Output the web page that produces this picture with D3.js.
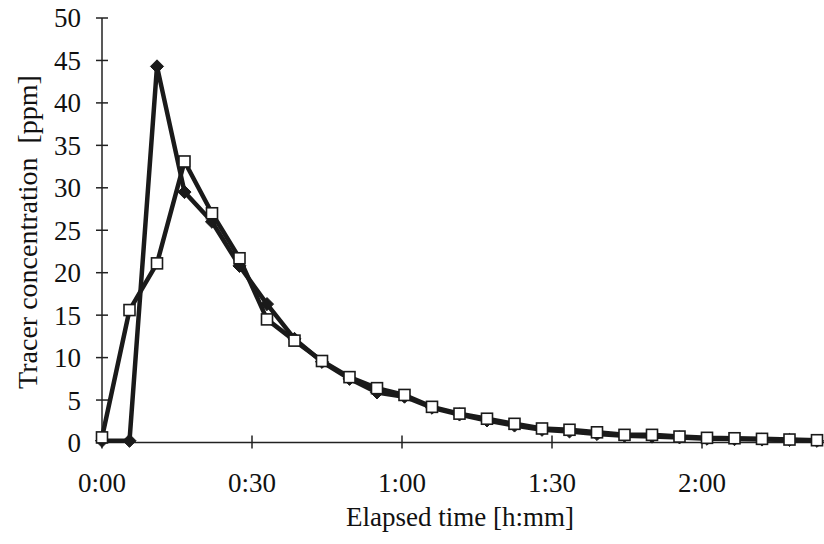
<!DOCTYPE html>
<html>
<head>
<meta charset="utf-8">
<script src="https://cdn.jsdelivr.net/npm/d3@7"></script>
<style>
    body { margin: 0; background: #fff; }
</style>
</head>
<body>
<div id="chart"></div>
<script>

// elapsed time of each sample, minutes
let minutes = [0, 5.5, 11, 16.5, 22, 27.5, 33, 38.5, 44, 49.5, 55, 60.5, 66, 71.5,
    77, 82.5, 88, 93.5, 99, 104.5, 110, 115.5, 121, 126.5, 132, 137.5, 143];

// filled diamonds
let seriesA = [0.2, 0.2, 44.3, 29.5, 26.0, 20.8, 16.3, 12.2, 9.5, 7.5, 5.9, 5.4, 4.1, 3.3,
    2.6, 2.0, 1.5, 1.3, 1.0, 0.8, 0.7, 0.6, 0.45, 0.4, 0.35, 0.3, 0.2];

// open squares
let seriesB = [0.6, 15.6, 21.1, 33.1, 27.0, 21.7, 14.5, 12.0, 9.6, 7.7, 6.4, 5.6, 4.2, 3.4,
    2.8, 2.2, 1.65, 1.5, 1.2, 0.9, 0.9, 0.7, 0.55, 0.5, 0.43, 0.35, 0.27];

let xTicks = [0, 30, 60, 90, 120];
let xTickLabels = ["0:00", "0:30", "1:00", "1:30", "2:00"];
let yTicks = [0, 5, 10, 15, 20, 25, 30, 35, 40, 45, 50];

let width = 824,
    height = 544;
let serif = '"Liberation Serif", "DejaVu Serif", serif';

let svg = d3.select('#chart').append('svg')
    .attr('width', width)
    .attr('height', height)
    .attr('font-family', serif);

//----------------------------------------
// Scales
let x = d3.scaleLinear()
    .domain([0, 144.4])
    .range([102, 824]);

let y = d3.scaleLinear()
    .domain([0, 50])
    .range([442.5, 18]);

//----------------------------------------
// Axes (ticks cross the axis line)
let yAxis = svg.append('g').attr('class', 'y-axis');
yAxis.append('line')
    .attr('x1', x(0)).attr('x2', x(0))
    .attr('y1', y(50)).attr('y2', y(0))
    .style('stroke', '#222').style('stroke-width', 1.5);
yAxis.selectAll('.tick')
    .data(yTicks)
    .enter()
    .append('line')
    .attr('x1', x(0) - 6).attr('x2', x(0) + 6)
    .attr('y1', d => y(d)).attr('y2', d => y(d))
    .style('stroke', '#222').style('stroke-width', 1.5);
yAxis.selectAll('text')
    .data(yTicks)
    .enter()
    .append('text')
    .attr('x', 81)
    .attr('y', d => y(d))
    .attr('dy', '0.35em')
    .attr('text-anchor', 'end')
    .style('font-family', serif)
    .style('font-size', '27px')
    .style('fill', '#111')
    .text(d => d);

let xAxis = svg.append('g').attr('class', 'x-axis');
xAxis.append('line')
    .attr('x1', x(0)).attr('x2', width)
    .attr('y1', y(0)).attr('y2', y(0))
    .style('stroke', '#222').style('stroke-width', 1.5);
xAxis.selectAll('.tick')
    .data(xTicks)
    .enter()
    .append('line')
    .attr('x1', d => x(d)).attr('x2', d => x(d))
    .attr('y1', y(0) - 7).attr('y2', y(0) + 6)
    .style('stroke', '#222').style('stroke-width', 1.5);
xAxis.selectAll('text')
    .data(xTicks)
    .enter()
    .append('text')
    .attr('x', d => x(d))
    .attr('y', 492)
    .attr('text-anchor', 'middle')
    .style('font-family', serif)
    .style('font-size', '27px')
    .style('fill', '#111')
    .text((d, i) => xTickLabels[i]);

//----------------------------------------
// Axis titles
svg.append('text')
    .attr('x', 460)
    .attr('y', 526)
    .attr('text-anchor', 'middle')
    .style('font-family', serif)
    .style('font-size', '27px')
    .style('fill', '#111')
    .text('Elapsed time [h:mm]');

svg.append('text')
    .attr('transform', 'translate(37,232) rotate(-90)')
    .attr('text-anchor', 'middle')
    .style('font-family', serif)
    .style('font-size', '28px')
    .style('fill', '#111')
    .text('Tracer concentration\u00a0\u00a0[ppm]');

//----------------------------------------
// Lines
let lineGen = d3.line()
    .x(d => x(d[0]))
    .y(d => y(d[1]));

let ptsA = minutes.map((m, i) => [m, seriesA[i]]);
let ptsB = minutes.map((m, i) => [m, seriesB[i]]);

svg.append('path')
    .datum(ptsA)
    .attr('d', lineGen)
    .style('fill', 'none')
    .style('stroke', '#1a1a1a')
    .style('stroke-width', 4.5)
    .style('stroke-linejoin', 'round');

svg.selectAll('.diamond')
    .data(ptsA)
    .enter()
    .append('path')
    .attr('class', 'diamond')
    .attr('d', d3.symbol().type(d3.symbolDiamond2).size(110))
    .attr('transform', d => 'translate(' + x(d[0]) + ',' + y(d[1]) + ')')
    .style('fill', '#1a1a1a')
    .style('stroke', '#1a1a1a')
    .style('stroke-width', 1);

svg.append('path')
    .datum(ptsB)
    .attr('d', lineGen)
    .style('fill', 'none')
    .style('stroke', '#1a1a1a')
    .style('stroke-width', 4.5)
    .style('stroke-linejoin', 'round');

svg.selectAll('.square')
    .data(ptsB)
    .enter()
    .append('rect')
    .attr('class', 'square')
    .attr('x', d => x(d[0]) - 5.5)
    .attr('y', d => y(d[1]) - 5.5)
    .attr('width', 11)
    .attr('height', 11)
    .style('fill', '#fff')
    .style('stroke', '#1a1a1a')
    .style('stroke-width', 1.6);

</script>
</body>
</html>
